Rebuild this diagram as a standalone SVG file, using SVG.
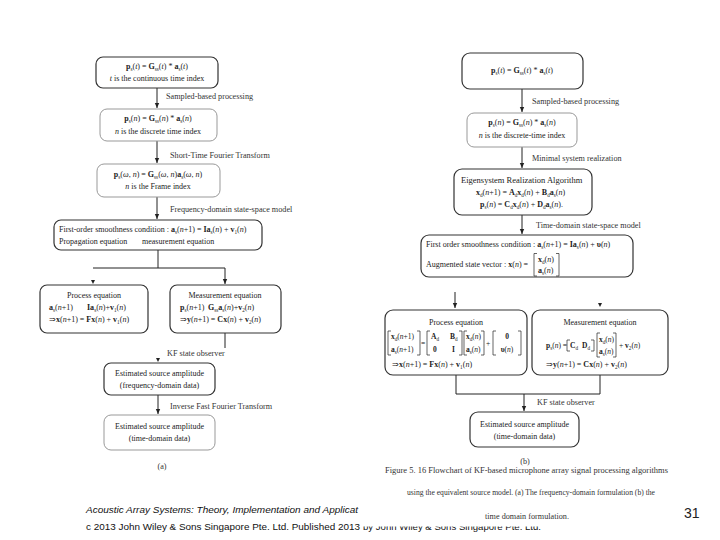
<svg xmlns="http://www.w3.org/2000/svg" width="720" height="540" viewBox="0 0 720 540">
<style>
.t{font-family:"Liberation Serif","Times New Roman",serif;font-size:8px;fill:#222}
.m{font-size:7.5px}
.lb{font-family:"Liberation Serif","Times New Roman",serif;font-size:8.2px;fill:#333}
.b{font-weight:bold}
.i{font-style:italic}
.s{font-size:5.2px;baseline-shift:-1.6px}
.bx{fill:#fff;stroke:#333;stroke-width:1.2}
.bx2{fill:#fff;stroke:#999;stroke-width:1}
.ln{fill:none;stroke:#222;stroke-width:1}
.br{fill:none;stroke:#222;stroke-width:0.7}
.ah{fill:#222}
.ft{font-family:"Liberation Sans",Arial,sans-serif;font-size:9.5px;fill:#111}
</style>
<defs>
<marker id="arr" markerWidth="6" markerHeight="6" refX="5" refY="3" orient="auto" markerUnits="userSpaceOnUse">
<path d="M0,0.8 L5,3 L0,5.2 Z" fill="#222"/>
</marker>
<clipPath id="cut"><rect x="355" y="526.5" width="220" height="12"/></clipPath>
</defs>
<rect width="720" height="540" fill="#fff"/>

<g id="connectors">
<path class="ln" d="M157,88 V108" marker-end="url(#arr)"/>
<path class="ln" d="M157,141 V163" marker-end="url(#arr)"/>
<path class="ln" d="M157,197 V219" marker-end="url(#arr)"/>
<path class="ln" d="M158,250 V268 M93,268 H225"/>
<path class="ln" d="M225,268 V284" marker-end="url(#arr)"/>
<path class="ah" d="M91,280 L95,280 L93,284 Z"/>
<path class="ln" d="M225,333 V348"/>
<path class="ah" d="M156,358 L160,358 L158,362 Z"/>
<path class="ln" d="M158,395 V414" marker-end="url(#arr)"/>
<path class="ln" d="M522,89 V112" marker-end="url(#arr)"/>
<path class="ln" d="M522,147 V168" marker-end="url(#arr)"/>
<path class="ln" d="M522,215 V234" marker-end="url(#arr)"/>
<path class="ln" d="M455,292 V308" marker-end="url(#arr)"/>
<path class="ah" d="M598,303 L602,303 L600,307 Z"/>
<path class="ln" d="M456,375 V394 H600 V375"/>
<path class="ln" d="M524,394 V411" marker-end="url(#arr)"/>
</g>

<g id="labels">
<text class="lb" x="166" y="99">Sampled-based processing</text>
<text class="lb" x="170" y="158">Short-Time Fourier Transform</text>
<text class="lb" x="170" y="212">Frequency-domain state-space model</text>
<text class="lb" x="167" y="356">KF state observer</text>
<text class="lb" x="170" y="409">Inverse Fast Fourier Transform</text>
<text class="lb" x="162" y="469" text-anchor="middle">(a)</text>
<text class="lb" x="532" y="104">Sampled-based processing</text>
<text class="lb" x="532" y="161">Minimal system realization</text>
<text class="lb" x="536" y="228">Time-domain state-space model</text>
<text class="lb" x="537" y="405">KF state observer</text>
<text class="lb" x="525" y="464" text-anchor="middle">(b)</text>
</g>

<g id="L1">
<rect class="bx" x="96" y="57" width="122" height="31" rx="7"/>
<text class="t" x="157" y="69" text-anchor="middle"><tspan class="b">p</tspan><tspan class="s">s</tspan>(<tspan class="i">t</tspan>) = <tspan class="b">G</tspan><tspan class="s">ss</tspan>(<tspan class="i">t</tspan>) * <tspan class="b">a</tspan><tspan class="s">s</tspan>(<tspan class="i">t</tspan>)</text>
<text class="t" x="157" y="81" text-anchor="middle"><tspan class="i">t</tspan> is the continuous time index</text>
</g>
<g id="L2">
<rect class="bx2" x="100" y="109" width="117" height="32" rx="7"/>
<text class="t" x="158" y="121" text-anchor="middle"><tspan class="b">p</tspan><tspan class="s">s</tspan>(<tspan class="i">n</tspan>) = <tspan class="b">G</tspan><tspan class="s">ss</tspan>(<tspan class="i">n</tspan>) * <tspan class="b">a</tspan><tspan class="s">s</tspan>(<tspan class="i">n</tspan>)</text>
<text class="t" x="158" y="134" text-anchor="middle"><tspan class="i">n</tspan> is the discrete time index</text>
</g>
<g id="L3">
<rect class="bx2" x="97" y="164" width="123" height="33" rx="7"/>
<text class="t" x="158" y="177" text-anchor="middle"><tspan class="b">p</tspan><tspan class="s">s</tspan>(<tspan class="i">ω</tspan>, <tspan class="i">n</tspan>) = <tspan class="b">G</tspan><tspan class="s">ss</tspan>(<tspan class="i">ω</tspan>, <tspan class="i">n</tspan>)<tspan class="b">a</tspan><tspan class="s">s</tspan>(<tspan class="i">ω</tspan>, <tspan class="i">n</tspan>)</text>
<text class="t" x="158" y="189" text-anchor="middle"><tspan class="i">n</tspan> is the Frame index</text>
</g>
<g id="L4">
<rect class="bx" x="54" y="220" width="208" height="30" rx="7"/>
<text class="t" x="59" y="232">First-order smoothness condition : <tspan class="b">a</tspan><tspan class="s">s</tspan>(<tspan class="i">n</tspan>+1) = <tspan class="b">Ia</tspan><tspan class="s">s</tspan>(<tspan class="i">n</tspan>) + <tspan class="b">v</tspan><tspan class="s">1</tspan>(<tspan class="i">n</tspan>)</text>
<text class="t" x="59" y="244">Propagation equation</text>
<text class="t" x="142" y="244">measurement equation</text>
</g>
<g id="L5">
<rect class="bx" x="40" y="285" width="108" height="48" rx="7"/>
<text class="t" x="94" y="298" text-anchor="middle">Process equation</text>
<text class="t" x="49" y="310"><tspan class="b">a</tspan><tspan class="s">s</tspan>(<tspan class="i">n</tspan>+1)</text>
<text class="t" x="87" y="310"><tspan class="b">Ia</tspan><tspan class="s">s</tspan>(<tspan class="i">n</tspan>)+<tspan class="b">v</tspan><tspan class="s">1</tspan>(<tspan class="i">n</tspan>)</text>
<text class="t" x="49" y="322">⇒<tspan class="b">x</tspan>(<tspan class="i">n</tspan>+1) = <tspan class="b">Fx</tspan>(<tspan class="i">n</tspan>) + <tspan class="b">v</tspan><tspan class="s">1</tspan>(<tspan class="i">n</tspan>)</text>
</g>
<g id="L6">
<rect class="bx" x="170" y="285" width="111" height="48" rx="7"/>
<text class="t" x="225" y="298" text-anchor="middle">Measurement equation</text>
<text class="t" x="180" y="310"><tspan class="b">p</tspan><tspan class="s">s</tspan>(<tspan class="i">n</tspan>+1)</text>
<text class="t" x="208" y="310"><tspan class="b">G</tspan><tspan class="s">ss</tspan><tspan class="b">a</tspan><tspan class="s">s</tspan>(<tspan class="i">n</tspan>)+<tspan class="b">v</tspan><tspan class="s">2</tspan>(<tspan class="i">n</tspan>)</text>
<text class="t" x="180" y="322">⇒<tspan class="b">y</tspan>(<tspan class="i">n</tspan>+1) = <tspan class="b">Cx</tspan>(<tspan class="i">n</tspan>) + <tspan class="b">v</tspan><tspan class="s">2</tspan>(<tspan class="i">n</tspan>)</text>
</g>
<g id="L7">
<rect class="bx" x="104" y="363" width="111" height="32" rx="7"/>
<text class="t" x="159.5" y="376" text-anchor="middle">Estimated source amplitude</text>
<text class="t" x="159.5" y="388" text-anchor="middle">(frequency-domain data)</text>
</g>
<g id="L8">
<rect class="bx2" x="104" y="415" width="111" height="35" rx="7"/>
<text class="t" x="159.5" y="429" text-anchor="middle">Estimated source amplitude</text>
<text class="t" x="159.5" y="441" text-anchor="middle">(time-domain data)</text>
</g>

<g id="R1">
<rect class="bx" x="462" y="53" width="121" height="36" rx="8"/>
<text class="t" x="522" y="73" text-anchor="middle"><tspan class="b">p</tspan><tspan class="s">s</tspan>(<tspan class="i">t</tspan>) = <tspan class="b">G</tspan><tspan class="s">ss</tspan>(<tspan class="i">t</tspan>) * <tspan class="b">a</tspan><tspan class="s">s</tspan>(<tspan class="i">t</tspan>)</text>
</g>
<g id="R2">
<rect class="bx2" x="467" y="113" width="110" height="34" rx="7"/>
<text class="t" x="522" y="125" text-anchor="middle"><tspan class="b">p</tspan><tspan class="s">s</tspan>(<tspan class="i">n</tspan>) = <tspan class="b">G</tspan><tspan class="s">ss</tspan>(<tspan class="i">n</tspan>) * <tspan class="b">a</tspan><tspan class="s">s</tspan>(<tspan class="i">n</tspan>)</text>
<text class="t" x="522" y="138" text-anchor="middle"><tspan class="i">n</tspan> is the discrete-time index</text>
</g>
<g id="R3">
<rect class="bx" x="454" y="169" width="138" height="46" rx="8"/>
<text class="t" x="461" y="183" style="font-size:8.5px">Eigensystem Realization Algorithm</text>
<text class="t" x="476" y="195"><tspan class="b">x</tspan><tspan class="s">d</tspan>(<tspan class="i">n</tspan>+1) = <tspan class="b">A</tspan><tspan class="s">d</tspan><tspan class="b">x</tspan><tspan class="s">d</tspan>(<tspan class="i">n</tspan>) + <tspan class="b">B</tspan><tspan class="s">d</tspan><tspan class="b">a</tspan><tspan class="s">s</tspan>(<tspan class="i">n</tspan>)</text>
<text class="t" x="480" y="207"><tspan class="b">p</tspan><tspan class="s">s</tspan>(<tspan class="i">n</tspan>) = <tspan class="b">C</tspan><tspan class="s">d</tspan><tspan class="b">x</tspan><tspan class="s">d</tspan>(<tspan class="i">n</tspan>) + <tspan class="b">D</tspan><tspan class="s">d</tspan><tspan class="b">a</tspan><tspan class="s">s</tspan>(<tspan class="i">n</tspan>).</text>
</g>
<g id="R4">
<rect class="bx" x="421" y="235" width="212" height="42" rx="8"/>
<text class="t" x="426" y="247">First order smoothness condition : <tspan class="b">a</tspan><tspan class="s">s</tspan>(<tspan class="i">n</tspan>+1) = <tspan class="b">Ia</tspan><tspan class="s">s</tspan>(<tspan class="i">n</tspan>) + <tspan class="b">υ</tspan>(<tspan class="i">n</tspan>)</text>
<text class="t" x="426" y="267">Augmented state vector : <tspan class="b">x</tspan>(<tspan class="i">n</tspan>) =</text>
<path class="br" d="M537,253.5 H534 V276 H537 M556,253.5 H559 V276 H556"/>
<text class="t" x="538" y="262"><tspan class="b">x</tspan><tspan class="s">d</tspan>(<tspan class="i">n</tspan>)</text>
<text class="t" x="538" y="273"><tspan class="b">a</tspan><tspan class="s">s</tspan>(<tspan class="i">n</tspan>)</text>
</g>
<g id="R5">
<rect class="bx" x="385" y="310" width="142" height="65" rx="8"/>
<text class="t" x="456" y="325" text-anchor="middle">Process equation</text>
<path class="br" d="M391,331 H388 V355 H391 M417,331 H420 V355 H417"/>
<text class="t m" x="391" y="339"><tspan class="b">x</tspan><tspan class="s">d</tspan>(<tspan class="i">n</tspan>+1)</text>
<text class="t m" x="391" y="352"><tspan class="b">a</tspan><tspan class="s">s</tspan>(<tspan class="i">n</tspan>+1)</text>
<text class="t m" x="421" y="346">=</text>
<path class="br" d="M430,331 H427 V355 H430 M459,331 H462 V355 H459"/>
<text class="t m" x="431" y="339"><tspan class="b">A</tspan><tspan class="s">d</tspan></text>
<text class="t m" x="450" y="339"><tspan class="b">B</tspan><tspan class="s">d</tspan></text>
<text class="t m" x="433" y="352"><tspan class="b">0</tspan></text>
<text class="t m" x="452" y="352"><tspan class="b">I</tspan></text>
<path class="br" d="M467,331 H464 V355 H467 M481,331 H484 V355 H481"/>
<text class="t m" x="466" y="339"><tspan class="b">x</tspan><tspan class="s">d</tspan>(<tspan class="i">n</tspan>)</text>
<text class="t m" x="466" y="352"><tspan class="b">a</tspan><tspan class="s">s</tspan>(<tspan class="i">n</tspan>)</text>
<text class="t m" x="486" y="346">+</text>
<path class="br" d="M496,331 H493 V355 H496 M518,331 H521 V355 H518"/>
<text class="t m" x="507" y="339" text-anchor="middle"><tspan class="b">0</tspan></text>
<text class="t m" x="507" y="352" text-anchor="middle"><tspan class="b">υ</tspan>(<tspan class="i">n</tspan>)</text>
<text class="t" x="392" y="367">⇒<tspan class="b">x</tspan>(<tspan class="i">n</tspan>+1) = <tspan class="b">Fx</tspan>(<tspan class="i">n</tspan>) + <tspan class="b">v</tspan><tspan class="s">1</tspan>(<tspan class="i">n</tspan>)</text>
</g>
<g id="R6">
<rect class="bx" x="532" y="310" width="136" height="65" rx="8"/>
<text class="t" x="600" y="325" text-anchor="middle">Measurement equation</text>
<text class="t m" x="546" y="348"><tspan class="b">p</tspan><tspan class="s">s</tspan>(<tspan class="i">n</tspan>) =</text>
<path class="br" d="M570,340 H567 V351 H570 M591,340 H594 V351 H591"/>
<text class="t m" x="570" y="348"><tspan class="b">C</tspan><tspan class="s">d</tspan></text>
<text class="t m" x="582" y="348"><tspan class="b">D</tspan><tspan class="s">d</tspan></text>
<path class="br" d="M600,333 H597 V357 H600 M613,333 H616 V357 H613"/>
<text class="t m" x="599" y="342"><tspan class="b">x</tspan><tspan class="s">d</tspan>(<tspan class="i">n</tspan>)</text>
<text class="t m" x="599" y="354"><tspan class="b">a</tspan><tspan class="s">s</tspan>(<tspan class="i">n</tspan>)</text>
<text class="t m" x="619" y="348">+ <tspan class="b">v</tspan><tspan class="s">2</tspan>(<tspan class="i">n</tspan>)</text>
<text class="t" x="546" y="367">⇒<tspan class="b">y</tspan>(<tspan class="i">n</tspan>+1) = <tspan class="b">Cx</tspan>(<tspan class="i">n</tspan>) + <tspan class="b">v</tspan><tspan class="s">2</tspan>(<tspan class="i">n</tspan>)</text>
</g>
<g id="R7">
<rect class="bx" x="470" y="412" width="109" height="35" rx="8"/>
<text class="t" x="524.5" y="427" text-anchor="middle">Estimated source amplitude</text>
<text class="t" x="524.5" y="439" text-anchor="middle">(time-domain data)</text>
</g>

<g id="caption">
<text class="lb" x="385" y="473" textLength="283" lengthAdjust="spacingAndGlyphs">Figure 5. 16    Flowchart of KF-based microphone array signal processing algorithms</text>
<text class="lb" x="407" y="495" textLength="248" lengthAdjust="spacingAndGlyphs">using the equivalent source model. (a) The frequency-domain formulation (b) the</text>
<text class="lb" x="527" y="519" text-anchor="middle">time domain formulation.</text>
</g>

<g id="footer">
<text class="ft" x="86" y="513" font-style="italic" textLength="272" lengthAdjust="spacingAndGlyphs">Acoustic Array Systems: Theory, Implementation and Applicat</text>
<text class="ft" x="86" y="530" textLength="274" lengthAdjust="spacingAndGlyphs">c 2013 John Wiley &amp; Sons Singapore Pte. Ltd. Published 2013</text>
<text class="ft" x="363" y="530" textLength="178" lengthAdjust="spacingAndGlyphs" clip-path="url(#cut)">by John Wiley &amp; Sons Singapore Pte. Ltd.</text>
<text x="684" y="518" style="font-family:'Liberation Sans',Arial,sans-serif;font-size:14px;fill:#222">31</text>
</g>
</svg>
